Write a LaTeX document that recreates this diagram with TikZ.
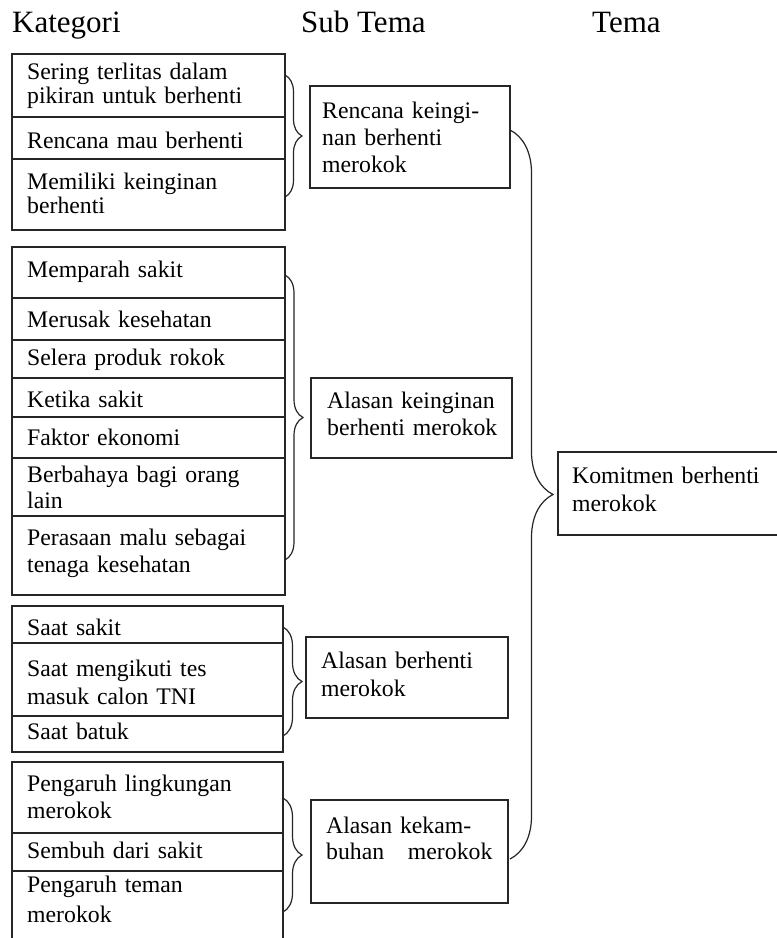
\documentclass[tikz,border=0pt]{standalone}
\usepackage{fontspec}
\setmainfont{Liberation Serif}
\usetikzlibrary{decorations.pathreplacing}
\tikzset{
  cell/.style={draw=black!85, line width=1.3pt, anchor=north west, inner sep=0pt, outer sep=0pt},
  txt/.style={anchor=base west, inner sep=0pt, text width=272pt, align=left, font=\fontsize{23.75}{27}\selectfont},
  head/.style={anchor=base west, inner sep=0pt, font=\fontsize{31}{36}\selectfont},
  brc/.style={draw=black!85, line width=1.2pt, decorate, decoration={brace, amplitude=#1}},
}
\newcommand\kcell[5]{\node[cell, minimum width={(#4-#2)*1pt}, minimum height={(#5-#3)*1pt}] (#1) at (#2,#3) {};}
\begin{document}
\begin{tikzpicture}[x=1pt,y=-1pt]
\useasboundingbox (0,0) rectangle (777,938);
\fill[white] (0,0) rectangle (777,938);
% headers
\node[head] (h1) at (12,32) {Kategori};
\node[head] (h2) at (301,32) {Sub Tema};
\node[head] (h3) at (592,32) {Tema};
% group 1
\kcell{c11}{12}{54}{285}{117}
\kcell{c12}{12}{117}{285}{159}
\kcell{c13}{12}{159}{285}{230}
\node[txt, font=\fontsize{23.75}{24.5}\selectfont] (t11) at (27,79) {Sering terlitas dalam\\pikiran untuk berhenti};
\node[txt] (t12) at (27,148) {Rencana mau berhenti};
\node[txt, font=\fontsize{23.75}{24.5}\selectfont] (t13) at (27,189) {Memiliki keinginan\\berhenti};
% group 2
\kcell{c21}{12}{247}{285}{298}
\kcell{c22}{12}{298}{285}{340}
\kcell{c23}{12}{340}{285}{378}
\kcell{c24}{12}{378}{285}{417}
\kcell{c25}{12}{417}{285}{458}
\kcell{c26}{12}{458}{285}{516}
\kcell{c27}{12}{516}{285}{595}
\node[txt] (t21) at (27,277) {Memparah sakit};
\node[txt] (t22) at (27,327) {Merusak kesehatan};
\node[txt] (t23) at (27,365) {Selera produk rokok};
\node[txt] (t24) at (27,407) {Ketika sakit};
\node[txt] (t25) at (27,445) {Faktor ekonomi};
\node[txt, font=\fontsize{23.75}{26}\selectfont] (t26) at (27,482) {Berbahaya bagi orang\\lain};
\node[txt] (t27) at (27,545) {Perasaan malu sebagai\\tenaga kesehatan};
% group 3
\kcell{c31}{12}{606}{283}{643}
\kcell{c32}{12}{643}{283}{716}
\kcell{c33}{12}{716}{283}{752}
\node[txt] (t31) at (27,635) {Saat sakit};
\node[txt, font=\fontsize{23.75}{28}\selectfont] (t32) at (27,676) {Saat mengikuti tes\\masuk calon TNI};
\node[txt] (t33) at (27,739) {Saat batuk};
% group 4
\kcell{c41}{12}{762}{283}{833}
\kcell{c42}{12}{833}{283}{871}
\node[cell, draw=none, minimum width=271pt, minimum height=67pt] (c43) at (12,871) {};
\draw[draw=black!85, line width=1.3pt] (c43.south west) -- (c43.north west) -- (c43.north east) -- (c43.south east);
\node[txt] (t41) at (27,791) {Pengaruh lingkungan\\merokok};
\node[txt] (t42) at (27,858) {Sembuh dari sakit};
\node[txt, font=\fontsize{23.75}{30}\selectfont] (t43) at (27,892) {Pengaruh teman\\merokok};
% sub tema boxes
\kcell{s1}{310}{86}{510}{188}
\kcell{s2}{311}{378}{512}{458}
\kcell{s3}{306}{637}{508}{718}
\kcell{s4}{311}{800}{508}{903}
\node[txt] (u1) at (322,118) {Rencana keingi-\\nan berhenti\\merokok};
\node[txt] (u2) at (327,408) {Alasan keinginan\\berhenti merokok};
\node[txt, font=\fontsize{23.75}{28}\selectfont] (u3) at (321,668) {Alasan berhenti\\merokok};
\node[txt, font=\fontsize{23.75}{26}\selectfont] (u4) at (326,833) {Alasan kekam-\\buhan~~~merokok};
% tema box
\node[cell, draw=none, minimum width=219pt, minimum height=83pt] (tm) at (558,452) {};
\draw[draw=black!85, line width=1.3pt] (tm.north east) -- (tm.north west) -- (tm.south west) -- (tm.south east);
\node[txt, font=\fontsize{23.75}{28}\selectfont] (v1) at (572,483) {Komitmen berhenti\\merokok};
% braces
\coordinate (b1a) at (c11.north east |- 0,75);
\coordinate (b1b) at (c13.north east |- 0,197);
\coordinate (b2a) at (c21.north east |- 0,275);
\coordinate (b2b) at (c27.north east |- 0,560);
\coordinate (b3a) at (c31.north east |- 0,627);
\coordinate (b3b) at (c33.north east |- 0,736);
\coordinate (b4a) at (c41.north east |- 0,798);
\coordinate (b4b) at (c43.north east |- 0,912);
\coordinate (b5a) at (s1.north east |- 0,130);
\coordinate (b5b) at (s1.north east |- 0,859);
\draw[brc=17pt] (b1a) -- (b1b);
\draw[brc=18pt] (b2a) -- (b2b);
\draw[brc=19pt] (b3a) -- (b3b);
\draw[brc=19pt] (b4a) -- (b4b);
\draw[brc=43pt] (b5a) -- (b5b);
\end{tikzpicture}
\end{document}
